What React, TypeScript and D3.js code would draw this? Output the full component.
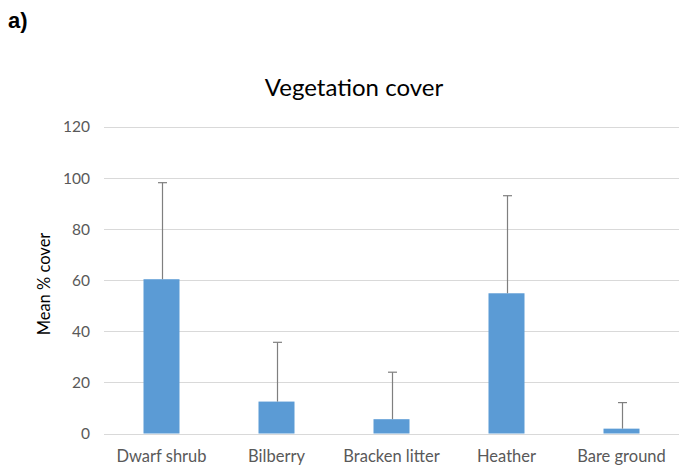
import React, {useEffect, useRef} from "react";
import * as d3 from "d3";

const categorias = ["Dwarf shrub", "Bilberry", "Bracken litter", "Heather", "Bare ground"];
const medias = [60.4, 12.5, 5.6, 54.9, 1.9];
const erros = [37.8, 23.2, 18.4, 38.2, 10.2];
const ticksY = [0, 20, 40, 60, 80, 100, 120];

const largura = 679;
const altura = 475;
const margem = {top: 127, bottom: 41.5, left: 104, right: 0};

export default function App() {
    const ref = useRef<SVGSVGElement>(null);

    useEffect(() => {
        const svg = d3.select(ref.current);
        svg.selectAll("*").remove();

        const x = d3.scaleBand()
            .domain(categorias)
            .range([margem.left, largura - margem.right])
            .padding(0);

        const y = d3.scaleLinear()
            .domain([0, 120])
            .range([altura - margem.bottom, margem.top]);

        const dados = categorias.map((c, i) => ({nome: c, valor: medias[i], erro: erros[i]}));
        const larguraBarra = 36;
        const fonte = "Lato, 'Open Sans', sans-serif";

        // linhas de grade
        svg.append("g")
            .selectAll("line")
            .data(ticksY)
            .join("line")
            .attr("x1", margem.left)
            .attr("x2", largura - margem.right)
            .attr("y1", d => Math.round(y(d)) + 0.5)
            .attr("y2", d => Math.round(y(d)) + 0.5)
            .attr("stroke", "#d9d9d9")
            .attr("stroke-width", 1);

        // rótulos do eixo y
        svg.append("g")
            .selectAll("text")
            .data(ticksY)
            .join("text")
            .attr("x", 90)
            .attr("y", d => y(d))
            .attr("dy", "0.35em")
            .attr("text-anchor", "end")
            .attr("fill", "#595959")
            .style("font-family", fonte)
            .style("font-size", "15.5px")
            .text(d => d);

        // barras
        svg.append("g")
            .selectAll("rect")
            .data(dados)
            .join("rect")
            .attr("x", d => (x(d.nome) ?? 0) + x.bandwidth() / 2 - larguraBarra / 2)
            .attr("width", larguraBarra)
            .attr("y", d => y(d.valor))
            .attr("height", d => y(0) - y(d.valor))
            .attr("fill", "#5b9bd5");

        // barras de erro
        const gErro = svg.append("g")
            .attr("stroke", "#7f7f7f")
            .attr("stroke-width", 1.2);
        dados.forEach(d => {
            const cx = Math.round((x(d.nome) ?? 0) + x.bandwidth() / 2) + 0.5;
            gErro.append("line")
                .attr("x1", cx).attr("x2", cx)
                .attr("y1", y(d.valor)).attr("y2", y(d.valor + d.erro));
            gErro.append("line")
                .attr("x1", cx - 4.5).attr("x2", cx + 4.5)
                .attr("y1", y(d.valor + d.erro)).attr("y2", y(d.valor + d.erro));
        });

        // rótulos do eixo x
        svg.append("g")
            .selectAll("text")
            .data(categorias)
            .join("text")
            .attr("x", d => (x(d) ?? 0) + x.bandwidth() / 2)
            .attr("y", 462)
            .attr("text-anchor", "middle")
            .attr("fill", "#595959")
            .style("font-family", fonte)
            .style("font-size", "16.5px")
            .text(d => d);

        // título do eixo y
        svg.append("text")
            .attr("transform", `translate(50, 284) rotate(-90)`)
            .attr("text-anchor", "middle")
            .attr("fill", "#000")
            .style("font-family", fonte)
            .style("font-size", "16.5px")
            .text("Mean % cover");

        // título
        svg.append("text")
            .attr("x", 354)
            .attr("y", 96)
            .attr("text-anchor", "middle")
            .attr("fill", "#000")
            .style("font-family", fonte)
            .style("font-size", "24px")
            .text("Vegetation cover");

        svg.append("text")
            .attr("x", 8)
            .attr("y", 28)
            .attr("fill", "#000")
            .style("font-family", "Arial, 'Liberation Sans', sans-serif")
            .style("font-weight", "bold")
            .style("font-size", "22px")
            .text("a)");
    }, []);

    return <svg
        ref={ref}
        width={largura}
        height={altura}
        style={{position: "absolute", left: 0, top: 0, background: "#fff"}}
    />;
}
